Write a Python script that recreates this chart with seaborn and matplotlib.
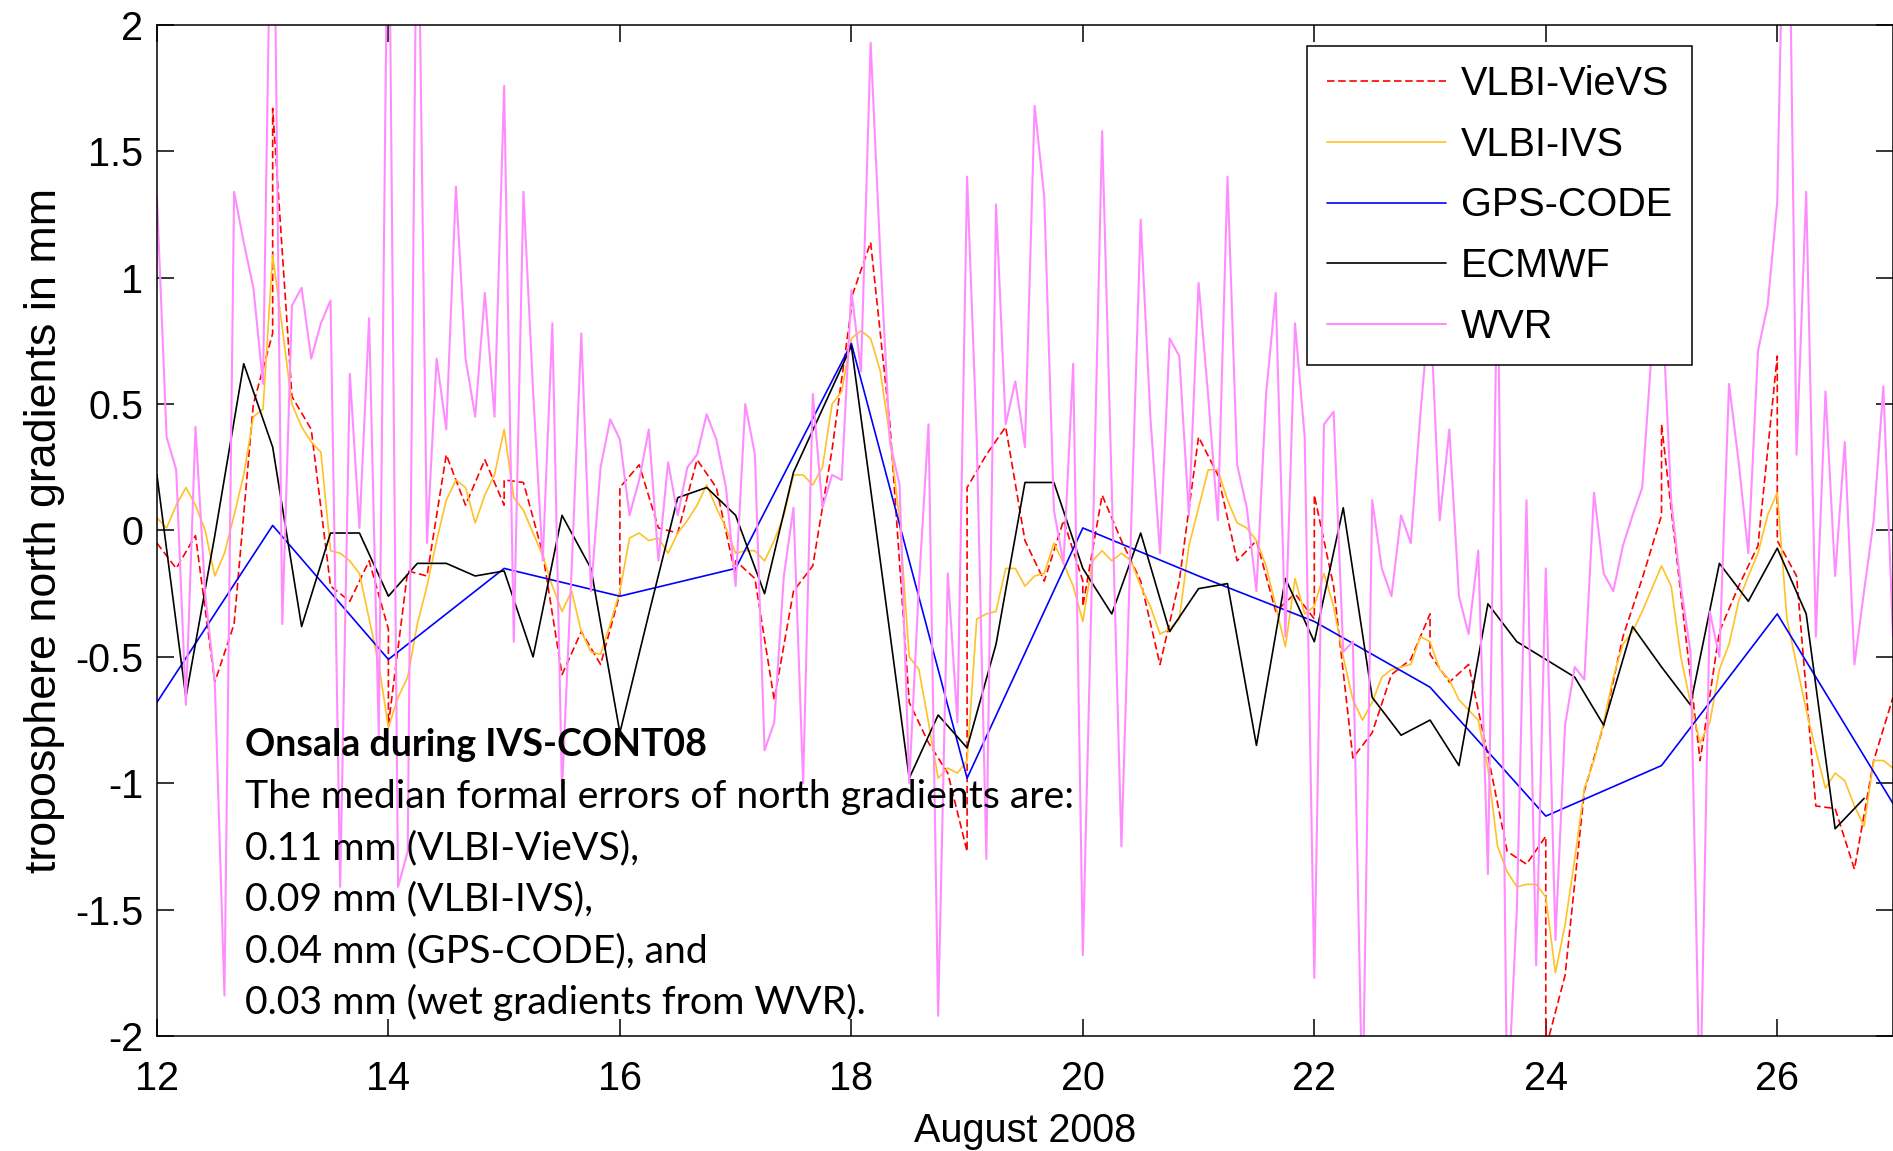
import numpy as np
import pandas as pd
import matplotlib
matplotlib.use("Agg")
import matplotlib.pyplot as plt
import seaborn as sns

# ---------------------------------------------------------------
# Onsala north gradients during IVS-CONT08 (August 2008), in mm
# ---------------------------------------------------------------
sessions = list(range(12, 27))          # 24-h sessions starting 0 UT

# VLBI-VieVS: 4-hourly estimates per session (0, 4, ..., 24 h)
vievs = [
    [-0.05, -0.15, -0.02, -0.60, -0.37, 0.50, 0.78],
    [1.67, 0.53, 0.40, -0.22, -0.28, -0.12, -0.39],
    [-0.77, -0.16, -0.18, 0.30, 0.10, 0.28, 0.10],
    [0.20, 0.19, -0.09, -0.57, -0.40, -0.53, -0.25],
    [0.17, 0.26, 0.01, -0.01, 0.28, 0.17, -0.18],
    [-0.12, -0.19, -0.67, -0.24, -0.14, 0.32, 0.88],
    [0.92, 1.14, 0.42, -0.68, -0.84, -0.96, -1.27],
    [0.17, 0.30, 0.41, -0.04, -0.20, 0.04, -0.20],
    [-0.30, 0.14, -0.04, -0.20, -0.53, -0.20, 0.37],
    [0.37, 0.22, -0.12, -0.04, -0.32, -0.25, -0.35],
    [0.14, -0.22, -0.90, -0.80, -0.57, -0.51, -0.33],
    [-0.49, -0.60, -0.53, -0.89, -1.27, -1.32, -1.21],
    [-2.05, -1.76, -1.03, -0.77, -0.42, -0.19, 0.06],
    [0.42, -0.25, -0.91, -0.40, -0.22, -0.06, 0.69],
    [-0.04, -0.18, -1.09, -1.10, -1.34, -0.91, -0.66],
]

# VLBI-IVS: 2-hourly values, one row per day (0, 2, ..., 22 h)
ivs = [
    [0.05, 0.01, 0.10, 0.17, 0.10, 0.00, -0.18, -0.09, 0.06, 0.22, 0.45, 0.48],
    [1.09, 0.80, 0.50, 0.41, 0.35, 0.31, -0.08, -0.09, -0.12, -0.17, -0.35, -0.53],
    [-0.78, -0.66, -0.58, -0.37, -0.22, -0.04, 0.12, 0.20, 0.17, 0.03, 0.14, 0.22],
    [0.40, 0.13, 0.08, -0.01, -0.10, -0.22, -0.32, -0.24, -0.40, -0.48, -0.49, -0.37],
    [-0.24, -0.03, -0.01, -0.04, -0.03, -0.09, -0.01, 0.04, 0.10, 0.18, 0.09, 0.01],
    [-0.09, -0.08, -0.08, -0.12, -0.04, 0.06, 0.22, 0.22, 0.18, 0.25, 0.50, 0.55],
    [0.76, 0.79, 0.76, 0.63, 0.37, 0.04, -0.50, -0.55, -0.76, -0.98, -0.94, -0.96],
    [-0.91, -0.35, -0.33, -0.32, -0.15, -0.15, -0.22, -0.18, -0.17, -0.05, -0.13, -0.22],
    [-0.36, -0.12, -0.08, -0.12, -0.09, -0.12, -0.22, -0.30, -0.41, -0.39, -0.35, -0.06],
    [0.09, 0.24, 0.24, 0.12, 0.03, 0.01, -0.04, -0.14, -0.30, -0.46, -0.19, -0.33],
    [-0.30, -0.17, -0.30, -0.50, -0.67, -0.75, -0.68, -0.58, -0.55, -0.54, -0.53, -0.42],
    [-0.44, -0.55, -0.59, -0.67, -0.71, -0.75, -0.94, -1.25, -1.35, -1.41, -1.40, -1.40],
    [-1.45, -1.75, -1.56, -1.30, -1.02, -0.91, -0.76, -0.58, -0.45, -0.40, -0.32, -0.23],
    [-0.14, -0.22, -0.50, -0.68, -0.84, -0.76, -0.55, -0.45, -0.28, -0.18, -0.09, 0.06],
    [0.15, -0.35, -0.53, -0.71, -0.87, -1.02, -0.96, -0.99, -1.09, -1.17, -0.91, -0.91],
]
ivs_last = -0.94

# GPS-CODE: daily values, 12 .. 27 August
gps = [-0.68, 0.02, -0.51, -0.15, -0.26, -0.15, 0.74, -0.98,
       0.01, -0.18, -0.36, -0.62, -1.13, -0.93, -0.33, -1.08]

# ECMWF: 6-hourly values from 12 August 0 UT
ecmwf = [0.22, -0.66, -0.02, 0.66, 0.33, -0.38, -0.01, -0.01,
         -0.26, -0.13, -0.13, -0.18, -0.16, -0.50, 0.06, -0.15,
         -0.80, -0.33, 0.13, 0.17, 0.06, -0.25, 0.23, 0.48,
         0.73, -0.12, -0.98, -0.73, -0.86, -0.45, 0.19, 0.19,
         -0.15, -0.33, -0.01, -0.40, -0.23, -0.21, -0.85, -0.19,
         -0.44, 0.09, -0.66, -0.81, -0.75, -0.93, -0.29, -0.44,
         -0.51, -0.58, -0.77, -0.38, -0.54, -0.69, -0.13, -0.28,
         -0.07, -0.33, -1.18, -1.06]

# WVR: 2-hourly values, one row per day (0, 2, ..., 22 h)
wvr = [
    [1.32, 0.37, 0.24, -0.69, 0.41, -0.25, -0.60, -1.84, 1.34, 1.14, 0.96, 0.58],
    [3.00, -0.37, 0.89, 0.96, 0.68, 0.82, 0.91, -1.41, 0.62, 0.01, 0.84, -0.81],
    [2.80, -1.41, -1.27, 2.80, -0.05, 0.68, 0.40, 1.36, 0.68, 0.45, 0.94, 0.45],
    [1.76, -0.44, 1.34, 0.55, -0.12, 0.82, -1.03, -0.15, 0.78, -0.24, 0.25, 0.44],
    [0.36, 0.06, 0.20, 0.40, -0.12, 0.27, 0.06, 0.25, 0.30, 0.46, 0.36, 0.17],
    [-0.22, 0.50, 0.30, -0.87, -0.76, -0.18, 0.09, -1.00, 0.54, 0.09, 0.22, 0.20],
    [0.95, 0.63, 1.93, 1.09, 0.35, 0.18, -1.00, -0.22, 0.42, -1.92, -0.17, -0.76],
    [1.40, 0.36, -1.30, 1.29, 0.42, 0.59, 0.33, 1.68, 1.32, 0.08, -0.13, 0.66],
    [-1.68, -0.10, 1.58, 0.17, -1.25, 0.00, 1.23, 0.45, -0.09, 0.76, 0.69, 0.06],
    [0.98, 0.53, 0.04, 1.40, 0.26, 0.09, -0.24, 0.54, 0.94, -0.42, 0.82, 0.37],
    [-1.77, 0.42, 0.47, -0.48, -0.44, -2.30, 0.12, -0.15, -0.26, 0.06, -0.05, 0.46],
    [0.90, 0.04, 0.40, -0.26, -0.41, -0.08, -1.36, 1.10, -2.30, -1.50, 0.12, -1.72],
    [-0.15, -1.62, -0.77, -0.54, -0.59, 0.15, -0.17, -0.24, -0.06, 0.06, 0.17, 0.72],
    [0.95, 0.12, -0.22, -0.48, -2.30, -0.32, -0.50, 0.58, 0.27, -0.09, 0.71, 0.89],
    [1.30, 3.20, 0.30, 1.34, -0.42, 0.55, -0.18, 0.35, -0.53, -0.24, 0.04, 0.57],
]
wvr_last = -0.42

series_names = ["VLBI-VieVS", "VLBI-IVS", "GPS-CODE", "ECMWF", "WVR"]
y_ticks = [-2, -1.5, -1, -0.5, 0, 0.5, 1, 1.5, 2]
x_ticks = [12, 14, 16, 18, 20, 22, 24, 26]

note_title = "Onsala during IVS-CONT08"
note_lines = [
    "The median formal errors of north gradients are:",
    "0.11 mm (VLBI-VieVS),",
    "0.09 mm (VLBI-IVS),",
    "0.04 mm (GPS-CODE), and",
    "0.03 mm (wet gradients from WVR).",
]

# ---------------------------------------------------------------
# build long tables
# ---------------------------------------------------------------
vievs_df = pd.DataFrame({
    "t": np.concatenate([s + np.arange(len(v)) * 4 / 24 for s, v in zip(sessions, vievs)]),
    "v": np.concatenate(vievs),
})


def hourly_table(rows, last, step_h):
    t = np.concatenate([s + np.arange(len(r)) * step_h / 24 for s, r in zip(sessions, rows)])
    t = np.append(t, sessions[-1] + 1)
    return pd.DataFrame({"t": t, "v": np.append(np.concatenate(rows), last)})


ivs_df = hourly_table(ivs, ivs_last, 2)
wvr_df = hourly_table(wvr, wvr_last, 2)
gps_df = pd.DataFrame({"t": 12 + np.arange(len(gps)), "v": gps})
ecmwf_df = pd.DataFrame({"t": 12 + np.arange(len(ecmwf)) * 0.25, "v": ecmwf})

# ---------------------------------------------------------------
# figure
# ---------------------------------------------------------------
sns.set_theme(style="white", rc={"text.color": "black", "axes.labelcolor": "black",
                                 "xtick.color": "black", "ytick.color": "black",
                                 "axes.edgecolor": "black"})
plt.rcParams["font.family"] = ["Liberation Sans", "DejaVu Sans"]
plt.rcParams["axes.linewidth"] = 1.1

fig = plt.figure(figsize=(18.93, 11.51), dpi=100)
ax = fig.add_axes([0.0829, 0.0999, 0.9171, 0.8784])

common = dict(ax=ax, x="t", y="v", estimator=None, sort=False, errorbar=None)
sns.lineplot(data=vievs_df, color="#FF0000", lw=1.2, label=series_names[0], **common)
ax.lines[-1].set_dashes((4.5, 2.2))
sns.lineplot(data=ivs_df, color="#FFC125", lw=1.2, label=series_names[1], **common)
sns.lineplot(data=gps_df, color="#0000FF", lw=1.2, label=series_names[2], **common)
sns.lineplot(data=ecmwf_df, color="#000000", lw=1.2, label=series_names[3], **common)
sns.lineplot(data=wvr_df, color="#FF8CFF", lw=1.5, label=series_names[4], **common)

ax.set_xlim(12, 27)
ax.set_ylim(-2, 2)
ax.set_xticks(x_ticks)
ax.set_yticks(y_ticks)
ax.set_xticklabels([str(v) for v in x_ticks])
ax.set_yticklabels([f"{v:g}" for v in y_ticks])
ax.tick_params(axis="both", direction="in", length=12, width=1.1, colors="black",
               labelsize=28.5, top=True, right=True, bottom=True, left=True)
ax.tick_params(axis="x", pad=17)
ax.tick_params(axis="y", pad=10)
for sp in ax.spines.values():
    sp.set_color("black")
    sp.set_linewidth(1.1)

ax.set_xlabel("August 2008", fontsize=28.5, labelpad=10, color="black")
ax.set_ylabel("troposphere north gradients in mm", fontsize=32.3, labelpad=7,
              color="black")

leg = ax.legend(loc="upper left", bbox_to_anchor=(0.6627, 0.9797), borderaxespad=0,
                fontsize=28.5, frameon=True, fancybox=False, framealpha=1,
                edgecolor="black", handlelength=3.0, handletextpad=0.37,
                labelspacing=0.57, borderpad=0.5)
leg.get_frame().set_linewidth(1.1)
leg.set_zorder(10)
for txt in leg.get_texts():
    txt.set_color("black")

# annotation block
note_x = 0.0508
baselines = [0.2767 - 0.0509 * i for i in range(6)]
ax.text(note_x, baselines[0], note_title, transform=ax.transAxes, fontsize=27,
        fontweight="bold", family=["Lato", "DejaVu Sans"], va="baseline", ha="left",
        color="black")
for yb, line in zip(baselines[1:], note_lines):
    ax.text(note_x, yb, line, transform=ax.transAxes, fontsize=28.3,
            family=["Lato", "DejaVu Sans"], va="baseline", ha="left", color="black")

fig.savefig("out.png", dpi=100)
